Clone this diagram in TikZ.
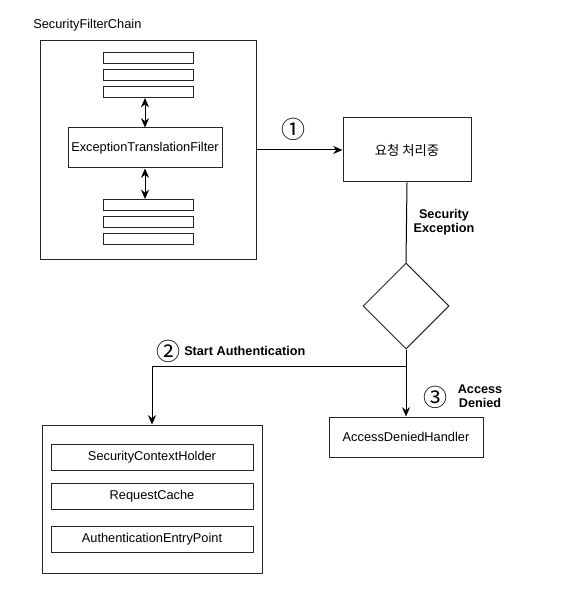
\documentclass[tikz,border=0pt]{standalone}
\usepackage{fontspec}
\setmainfont{Liberation Sans}
\newfontfamily\krfont{Noto Sans CJK KR}
\usetikzlibrary{arrows.meta, shapes.geometric}

\tikzset{
  box/.style={draw=black!85, line width=0.75pt, fill=white, inner sep=0pt, font=\fontsize{9.6}{11}\selectfont},
  bar/.style={box, minimum width=67.5pt, minimum height=8.25pt},
  lbl/.style={font=\fontsize{9.5}{10.5}\selectfont\bfseries, align=center, inner sep=0pt},
  num/.style={font=\krfont\fontsize{18}{18}\selectfont, inner sep=0pt},
  flow/.style={draw=black, line width=0.75pt, -{Stealth[length=7pt, width=6pt]}},
  both/.style={draw=black, line width=0.75pt, {Stealth[length=7pt, width=6pt]}-{Stealth[length=7pt, width=6pt]}}
}

\begin{document}
\begin{tikzpicture}[x=0.75pt, y=-0.75pt]
  \useasboundingbox (0,0) rectangle (561,602);

  % filter chain
  \node[anchor=west, inner sep=0pt, font=\fontsize{9.6}{11}\selectfont] (chainlbl) at (33,25) {SecurityFilterChain};
  \node[box, minimum width=162pt, minimum height=163.5pt] (chain) at (148,150) {};
  \node[bar] (f1) at (148,58) {};
  \node[bar] (f2) at (148,75) {};
  \node[bar] (f3) at (148,92) {};
  \node[box, minimum width=115.5pt, minimum height=30pt] (etf) at (145,148) {ExceptionTranslationFilter};
  \node[bar] (f4) at (148,205) {};
  \node[bar] (f5) at (148,222) {};
  \node[bar] (f6) at (148,239) {};
  \draw[both] (etf.north |- f3.south) -- (etf.north);
  \draw[both] (etf.south) -- (etf.south |- f4.north);

  % processing
  \node[box, minimum width=96pt, minimum height=48pt, font=\krfont\fontsize{10}{11}\selectfont] (proc) at (407,150) {요청 처리중};
  \draw[flow] (chain.east) -- (proc.west);
  \node[num] (n1) at (293,129) {①};

  % decision
  \node[draw=black!85, line width=0.75pt, diamond, minimum width=64.5pt, minimum height=64.5pt, inner sep=0pt] (dec) at (406,306) {};
  \draw[line width=0.75pt] (proc.south) -- (dec.north);
  \node[lbl] (secex) at (444,222) {Security\\Exception};

  % handlers
  \node[box, minimum width=115.5pt, minimum height=30pt] (adh) at (406,437) {AccessDeniedHandler};
  \node[box, minimum width=165pt, minimum height=111pt] (auth) at (152,499) {};
  \node[box, minimum width=151.5pt, minimum height=19.5pt] (sch) at (152,457.5) {SecurityContextHolder};
  \node[box, minimum width=151.5pt, minimum height=19.5pt] (rc) at (152,496) {RequestCache};
  \node[box, minimum width=151.5pt, minimum height=19pt] (aep) at (152,539.5) {AuthenticationEntryPoint};

  \coordinate (split) at (406,366);
  \draw[line width=0.75pt] (dec.south) -- (split);
  \draw[flow] (split) -- (adh.north);
  \draw[flow] (split) -| (auth.north);

  \node[num] (n2) at (168,351) {②};
  \node[lbl, anchor=west] (start) at (184,351) {Start Authentication};
  \node[num] (n3) at (435,397) {③};
  \node[lbl] (denied) at (480,396) {Access\\Denied};
\end{tikzpicture}
\end{document}
